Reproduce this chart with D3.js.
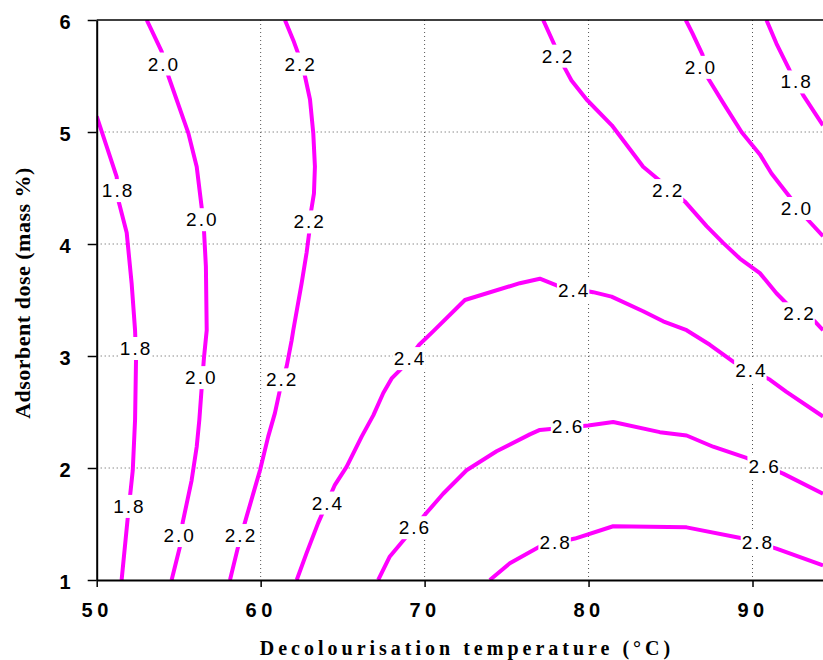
<!DOCTYPE html>
<html lang="en">
<head>
<meta charset="UTF-8">
<title>Contour plot - decolourisation</title>
<script src="https://d3js.org/d3.v7.min.js"></script>
<style>
    body { margin: 0; background: #fff; }
    .grid line { stroke: #555; stroke-width: 1; stroke-dasharray: 1,3; }
    .contour { fill: none; stroke: #ff00ff; stroke-width: 4; stroke-linejoin: round; }
    .clabel { font-family: "Liberation Sans", Arial, sans-serif; font-size: 19px; letter-spacing: 2px; fill: #000; }
    .axis text { font-family: "Liberation Sans", Arial, sans-serif; font-weight: bold; font-size: 20px; fill: #000; }
    .axis-title { font-family: "Liberation Serif", "Times New Roman", serif; font-weight: bold; fill: #000; }
</style>
</head>
<body>
<svg id="chart" width="823" height="660"></svg>
<script>
// axis ticks
const xTicks = [50, 60, 70, 80, 90];
const yTicks = [1, 2, 3, 4, 5, 6];

// contour lines: [temperature, dose]
const line18Left = [[50.00,5.14],[51.22,4.60],[51.32,4.39],[51.83,4.10],[52.13,3.65],[52.34,3.23],[52.40,2.98],[52.34,2.43],[52.20,1.98],[51.89,1.55],[51.52,1.00]];
const line20Left = [[53.05,6.00],[53.96,5.72],[54.37,5.50],[55.28,5.12],[55.59,4.99],[56.10,4.69],[56.40,4.33],[56.54,4.13],[56.66,3.80],[56.71,3.23],[56.54,2.98],[56.40,2.71],[56.26,2.43],[56.10,2.19],[55.79,1.89],[55.24,1.51],[55.08,1.30],[54.57,1.00]];
const line22Left = [[61.48,6.00],[61.99,5.82],[62.29,5.70],[62.70,5.50],[63.01,5.29],[63.21,4.99],[63.31,4.69],[63.25,4.45],[63.05,4.27],[62.96,4.10],[62.80,3.92],[62.50,3.65],[61.99,3.23],[61.89,3.14],[61.59,2.91],[61.18,2.70],[60.87,2.49],[60.46,2.28],[59.96,1.98],[59.15,1.57],[58.63,1.30],[58.13,1.00]];
const line24 = [[62.20,1.00],[62.80,1.24],[63.51,1.51],[64.53,1.85],[65.24,2.01],[66.16,2.28],[66.87,2.47],[67.48,2.67],[67.99,2.80],[68.60,2.89],[69.67,3.10],[70.52,3.22],[72.46,3.50],[75.81,3.65],[77.03,3.69],[78.05,3.63],[80.28,3.57],[81.40,3.53],[83.33,3.40],[84.55,3.31],[85.98,3.23],[87.40,3.10],[88.82,2.95],[91.05,2.79],[92.07,2.68],[94.30,2.46]];
const line26 = [[67.17,1.00],[67.88,1.21],[68.80,1.37],[70.12,1.60],[71.13,1.77],[72.56,1.98],[74.39,2.15],[76.42,2.30],[77.03,2.34],[79.98,2.38],[81.50,2.41],[84.35,2.32],[85.98,2.29],[87.60,2.19],[89.63,2.09],[91.87,1.95],[94.30,1.77]];
const line28 = [[73.98,1.00],[75.20,1.15],[77.03,1.30],[79.17,1.37],[81.50,1.48],[85.98,1.47],[89.43,1.37],[91.46,1.28],[94.30,1.13]];
const line22Right = [[77.23,6.00],[77.88,5.79],[78.55,5.57],[78.96,5.46],[79.88,5.29],[81.42,5.06],[83.33,4.69],[84.15,4.59],[85.87,4.38],[87.20,4.16],[88.21,4.01],[89.23,3.87],[90.45,3.74],[91.46,3.56],[92.27,3.44],[93.80,3.31],[94.30,3.23]];
const line20Right = [[85.93,6.00],[86.34,5.88],[86.95,5.69],[87.29,5.48],[88.21,5.26],[89.33,5.00],[90.45,4.80],[91.16,4.63],[92.17,4.44],[93.29,4.23],[94.30,4.07]];
const line18Right = [[90.85,6.00],[91.46,5.79],[92.27,5.55],[93.09,5.33],[94.30,5.06]];

// contour labels: [temperature, dose, text]
const contourLabels = [
    [51.24, 4.48, "1.8"], [52.34, 3.07, "1.8"], [51.93, 1.66, "1.8"],
    [54.04, 5.61, "2.0"], [56.38, 4.22, "2.0"], [56.32, 2.81, "2.0"], [55.00, 1.40, "2.0"],
    [62.38, 5.61, "2.2"], [62.93, 4.20, "2.2"], [61.25, 2.79, "2.2"], [58.74, 1.40, "2.2"],
    [64.04, 1.69, "2.4"], [69.05, 2.98, "2.4"], [79.06, 3.59, "2.4"], [89.87, 2.87, "2.4"],
    [69.35, 1.47, "2.6"], [78.69, 2.37, "2.6"], [90.68, 2.02, "2.6"],
    [77.93, 1.34, "2.8"], [90.27, 1.34, "2.8"],
    [78.08, 5.68, "2.2"], [84.79, 4.48, "2.2"], [92.81, 3.38, "2.2"],
    [86.79, 5.58, "2.0"], [92.65, 4.32, "2.0"],
    [92.63, 5.45, "1.8"]
];

const lines = [line18Left, line20Left, line22Left, line24, line26, line28, line22Right, line20Right, line18Right];

const plotLeft = 96.7, plotRight = 823, plotTop = 20, plotBottom = 580;

const svg = d3.select("#chart");

const x = d3.scaleLinear().domain([50, 94.3]).range([plotLeft, plotRight]);
const y = d3.scaleLinear().domain([1, 6]).range([plotBottom, plotTop]);

svg.append("defs").append("clipPath").attr("id", "plot-clip")
    .append("rect")
    .attr("x", plotLeft).attr("y", plotTop)
    .attr("width", plotRight - plotLeft).attr("height", plotBottom - plotTop);

// dotted grid
const grid = svg.append("g").attr("class", "grid");
grid.selectAll(".vx").data(xTicks.filter(d => d > 50)).enter().append("line")
    .attr("x1", d => x(d)).attr("x2", d => x(d))
    .attr("y1", plotTop).attr("y2", plotBottom);
grid.selectAll(".hy").data(yTicks.filter(d => d > 1 && d < 6)).enter().append("line")
    .attr("x1", plotLeft).attr("x2", plotRight)
    .attr("y1", d => y(d)).attr("y2", d => y(d));

// contour lines
const lineGen = d3.line().x(d => x(d[0])).y(d => y(d[1]));
const plot = svg.append("g").attr("clip-path", "url(#plot-clip)");
plot.selectAll(".contour").data(lines).enter().append("path")
    .attr("class", "contour")
    .attr("d", lineGen);

// labels with white box that breaks the line
const labelG = plot.selectAll(".lab").data(contourLabels).enter().append("g")
    .attr("transform", d => `translate(${x(d[0])},${y(d[1])})`);
labelG.append("text")
    .attr("class", "clabel")
    .attr("text-anchor", "middle")
    .attr("dx", 1)
    .attr("dy", "0.36em")
    .text(d => d[2]);
labelG.each(function () {
    const g = d3.select(this);
    const bb = g.select("text").node().getBBox();
    g.insert("rect", "text")
        .attr("x", bb.x - 1)
        .attr("y", bb.y - 1)
        .attr("width", bb.width)
        .attr("height", bb.height + 2)
        .attr("fill", "#fff");
});

// axes
const xAxis = svg.append("g")
    .attr("class", "axis")
    .attr("transform", `translate(0,${plotBottom})`)
    .call(d3.axisBottom(x).tickValues(xTicks).tickSize(7).tickSizeOuter(0).tickFormat(d3.format("d")));
xAxis.select(".domain").attr("stroke", "#000").attr("stroke-width", 2);
xAxis.selectAll(".tick line").attr("stroke", "#000").attr("stroke-width", 1.5);
xAxis.selectAll(".tick text")
    .attr("y", 37).attr("dy", 0)
    .style("letter-spacing", "4.5px");

const yAxis = svg.append("g")
    .attr("class", "axis")
    .attr("transform", `translate(${plotLeft},0)`)
    .call(d3.axisLeft(y).tickValues(yTicks).tickSize(9).tickSizeOuter(0).tickPadding(17).tickFormat(d3.format("d")));
yAxis.select(".domain").attr("stroke", "#000").attr("stroke-width", 2);
yAxis.selectAll(".tick line").attr("stroke", "#000").attr("stroke-width", 1.5);
yAxis.selectAll(".tick text").attr("dy", "0.4em");

// top border
svg.append("line")
    .attr("x1", plotLeft).attr("x2", plotRight)
    .attr("y1", plotTop).attr("y2", plotTop)
    .attr("stroke", "#000").attr("stroke-width", 1.5);

// axis titles
svg.append("text")
    .attr("class", "axis-title")
    .attr("x", 467).attr("y", 655)
    .attr("text-anchor", "middle")
    .style("font-size", "20px")
    .style("letter-spacing", "4px")
    .text("Decolourisation temperature (°C)");

svg.append("text")
    .attr("class", "axis-title")
    .attr("transform", "translate(30,293) rotate(-90)")
    .attr("text-anchor", "middle")
    .style("font-size", "22px")
    .style("letter-spacing", "0.5px")
    .text("Adsorbent dose (mass %)");
</script>
</body>
</html>
